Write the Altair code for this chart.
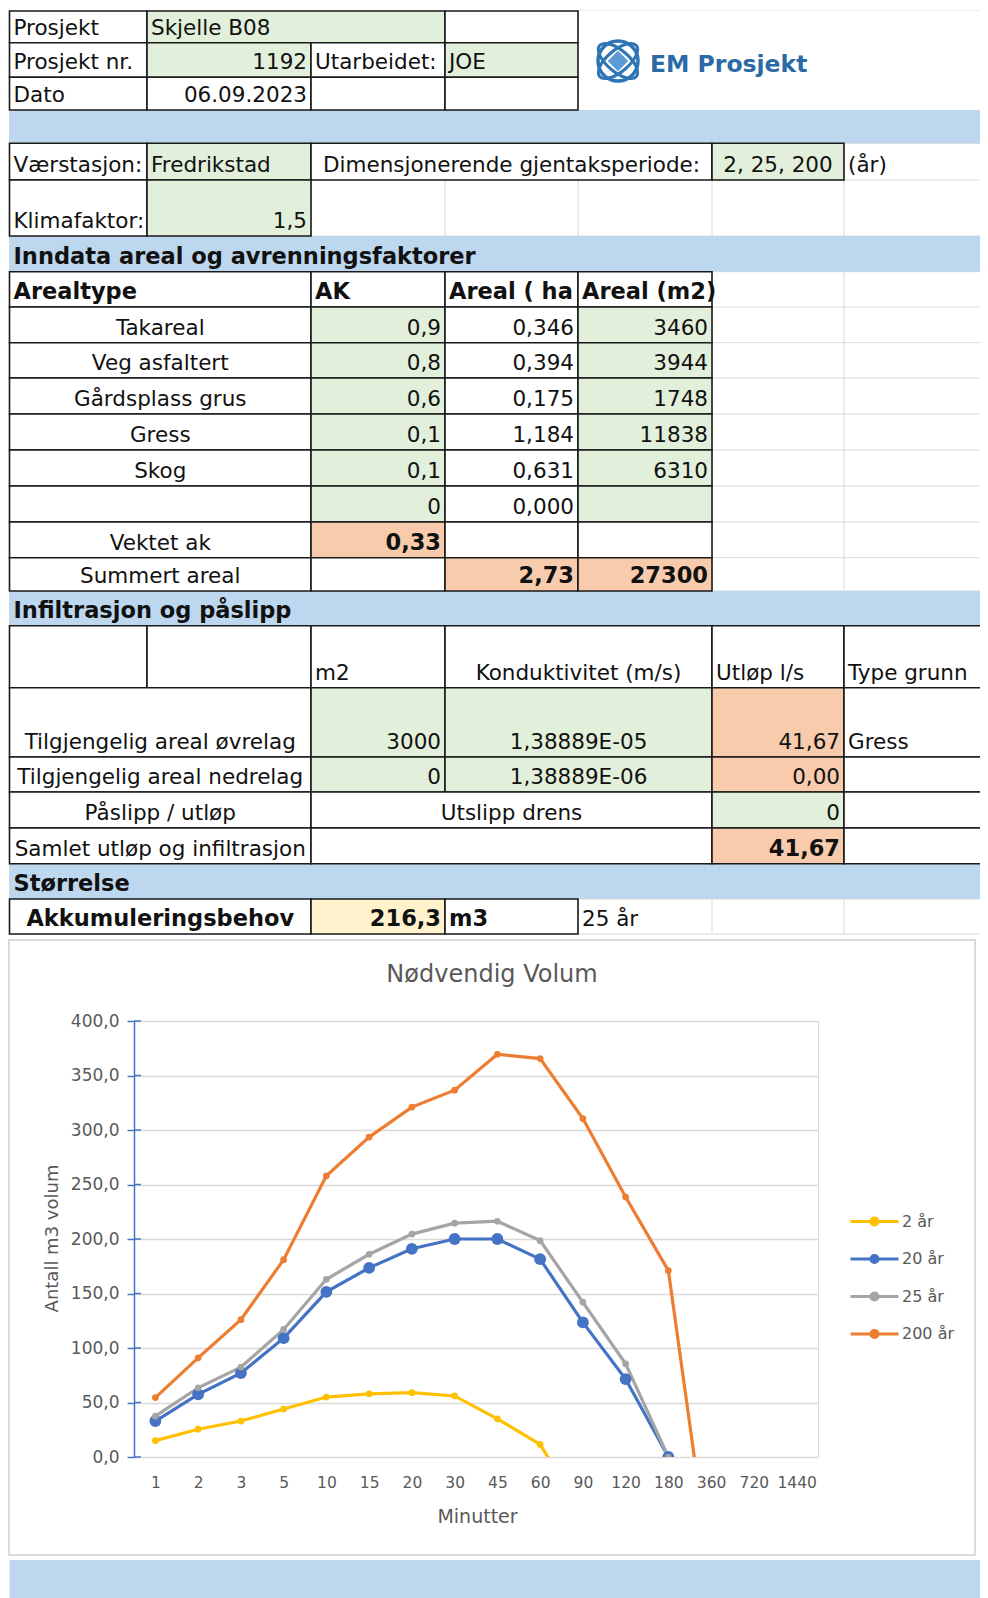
import altair as alt
import pandas as pd

FONT = "DejaVu Sans"

# ---------------- chart data ----------------
MINUTTER = ["1", "2", "3", "5", "10", "15", "20", "30", "45", "60",
            "90", "120", "180", "360", "720", "1440"]
SERIES = ["2 år", "20 år", "25 år", "200 år"]
VOLUM_2 = [15, 25.5, 33, 44, 55, 58, 59, 56, 35, 11.5, -52]
VOLUM_20 = [33, 57.5, 77, 109, 151.5, 173.5, 191, 200, 200, 181.5, 123.5, 71.5, 0]
VOLUM_25 = [37.5, 63.5, 82.5, 117, 163, 186, 204.5, 214.5, 216.3, 198.5, 142, 85.5, 0]
VOLUM_200 = [54.5, 91, 126, 181, 258, 293.5, 321, 336.5, 369.5, 365.5, 310.5, 238.5, 171, -111]
Y_TICKS = [0, 50, 100, 150, 200, 250, 300, 350, 400]

SERIES_COLORS = ["#FFC000", "#4472C4", "#A5A5A5", "#ED7D31"]
BIG_MARKER_SERIES = "20 år"

# ---------------- sheet content ----------------
AREALTYPE = ["Takareal", "Veg asfaltert", "Gårdsplass grus", "Gress", "Skog", ""]
AK = ["0,9", "0,8", "0,6", "0,1", "0,1", "0"]
AREAL_HA = ["0,346", "0,394", "0,175", "1,184", "0,631", "0,000"]
AREAL_M2 = ["3460", "3944", "1748", "11838", "6310", ""]

# (row, first col, last col, text, align, bold, fill code, bordered)
TOP_CELLS = [
    (0, 0, 1, "Prosjekt", "left", 0, "W", 1),
    (0, 1, 3, "Skjelle B08", "left", 0, "G", 1),
    (0, 3, 4, "", "left", 0, "W", 1),
    (1, 0, 1, "Prosjekt nr.", "left", 0, "W", 1),
    (1, 1, 2, "1192", "right", 0, "G", 1),
    (1, 2, 3, "Utarbeidet:", "left", 0, "W", 1),
    (1, 3, 4, "JOE", "left", 0, "G", 1),
    (2, 0, 1, "Dato", "left", 0, "W", 1),
    (2, 1, 2, "06.09.2023", "right", 0, "W", 1),
    (2, 2, 3, "", "left", 0, "W", 1),
    (2, 3, 4, "", "left", 0, "W", 1),
    (3, 0, 7, "", "left", 0, "B", 0),
    (4, 0, 1, "Værstasjon:", "left", 0, "W", 1),
    (4, 1, 2, "Fredrikstad", "left", 0, "G", 1),
    (4, 2, 5, "Dimensjonerende gjentaksperiode:", "center", 0, "W", 1),
    (4, 5, 6, "2, 25, 200", "center", 0, "G", 1),
    (4, 6, 7, "(år)", "left", 0, "-", 0),
    (5, 0, 1, "Klimafaktor:", "left", 0, "W", 1),
    (5, 1, 2, "1,5", "right", 0, "G", 1),
    (6, 0, 7, "Inndata areal og avrenningsfaktorer", "left", 1, "B", 0),
    (7, 0, 2, "Arealtype", "left", 1, "W", 1),
    (7, 2, 3, "AK", "left", 1, "W", 1),
    (7, 3, 4, "Areal ( ha", "left", 1, "W", 1),
    (7, 4, 5, "Areal (m2)", "left", 1, "W", 1),
]
SUM_CELLS = [
    (14, 0, 2, "Vektet ak", "center", 0, "W", 1),
    (14, 2, 3, "0,33", "right", 1, "O", 1),
    (14, 3, 4, "", "left", 0, "W", 1),
    (14, 4, 5, "", "left", 0, "W", 1),
    (15, 0, 2, "Summert areal", "center", 0, "W", 1),
    (15, 2, 3, "", "left", 0, "W", 1),
    (15, 3, 4, "2,73", "right", 1, "O", 1),
    (15, 4, 5, "27300", "right", 1, "O", 1),
    (16, 0, 7, "Infiltrasjon og påslipp", "left", 1, "B", 0),
    (17, 0, 1, "", "left", 0, "W", 1),
    (17, 1, 2, "", "left", 0, "W", 1),
    (17, 2, 3, "m2", "left", 0, "W", 1),
    (17, 3, 5, "Konduktivitet (m/s)", "center", 0, "W", 1),
    (17, 5, 6, "Utløp l/s", "left", 0, "W", 1),
    (17, 6, 7, "Type grunn", "left", 0, "W", 1),
    (18, 0, 2, "Tilgjengelig areal øvrelag", "center", 0, "W", 1),
    (18, 2, 3, "3000", "right", 0, "G", 1),
    (18, 3, 5, "1,38889E-05", "center", 0, "G", 1),
    (18, 5, 6, "41,67", "right", 0, "O", 1),
    (18, 6, 7, "Gress", "left", 0, "W", 1),
    (19, 0, 2, "Tilgjengelig areal nedrelag", "center", 0, "W", 1),
    (19, 2, 3, "0", "right", 0, "G", 1),
    (19, 3, 5, "1,38889E-06", "center", 0, "G", 1),
    (19, 5, 6, "0,00", "right", 0, "O", 1),
    (19, 6, 7, "", "left", 0, "W", 1),
    (20, 0, 2, "Påslipp / utløp", "center", 0, "W", 1),
    (20, 2, 5, "Utslipp drens", "center", 0, "W", 1),
    (20, 5, 6, "0", "right", 0, "G", 1),
    (20, 6, 7, "", "left", 0, "W", 1),
    (21, 0, 2, "Samlet utløp og infiltrasjon", "center", 0, "W", 1),
    (21, 2, 5, "", "left", 0, "W", 1),
    (21, 5, 6, "41,67", "right", 1, "O", 1),
    (21, 6, 7, "", "left", 0, "W", 1),
    (22, 0, 7, "Størrelse", "left", 1, "B", 0),
    (23, 0, 2, "Akkumuleringsbehov", "center", 1, "W", 1),
    (23, 2, 3, "216,3", "right", 1, "Y", 1),
    (23, 3, 4, "m3", "left", 1, "W", 1),
    (23, 4, 5, "25 år", "left", 0, "-", 0),
]
CHART_TITLE = "Nødvendig Volum"
LOGO_TEXT = "EM Prosjekt"

# ---------------- layout (page pixels) ----------------
COL_X = [9.5, 147, 311, 445, 578, 712, 844, 988]
ROW_Y = [11, 42.7, 77.3, 110, 143.3, 180, 236, 271.7, 307, 342.7, 378, 414, 450,
         486, 522, 557.7, 591, 625.7, 687.7, 757, 792, 828, 863.7, 899, 934]
FILLS = {"W": "#FFFFFF", "G": "#E2EFDA", "O": "#F8CBAD", "Y": "#FFF2CC",
         "B": "#BDD7EE", "-": ""}
PLOT = dict(left=134, top=1021, width=684, height=436)
PAGE_W, PAGE_H = 972, 1590
CHART_BOX = dict(x0=9, x1=975, y0=940, y1=1555)
BOTTOM_BAND = dict(x0=9.5, x1=988, y0=1560, y1=1598)
LOGO_AREA = dict(x0=578, x1=988, y0=11, y1=110)
TEXT_PAD = 4
BASELINE_OFF = 8
FS_NORMAL, FS_BOLD = 21.5, 22.5

# ---------------- build sheet tables ----------------
cells = list(TOP_CELLS)
for i, (n, a, h, m) in enumerate(zip(AREALTYPE, AK, AREAL_HA, AREAL_M2)):
    r = 8 + i
    cells += [(r, 0, 2, n, "center", 0, "W", 1), (r, 2, 3, a, "right", 0, "G", 1),
              (r, 3, 4, h, "right", 0, "W", 1), (r, 4, 5, m, "right", 0, "G", 1)]
cells += SUM_CELLS

rect_recs, band_recs, text_recs = [], [], []
for (r, c0, c1, t, al, b, f, bd) in cells:
    x0, x1 = COL_X[c0], COL_X[c1]
    y0, y1 = ROW_Y[r], ROW_Y[r + 1]
    if bd:
        rect_recs.append(dict(x0=x0, x1=x1, y0=y0, y1=y1, fill=FILLS[f]))
    elif FILLS[f]:
        band_recs.append(dict(x0=x0, x1=x1, y0=y0, y1=y1, fill=FILLS[f]))
    if t:
        tx = x0 + TEXT_PAD if al == "left" else (x1 - TEXT_PAD if al == "right" else (x0 + x1) / 2)
        text_recs.append(dict(label=t, px=tx, py=y1 - BASELINE_OFF, al=al, bw=b))
band_recs.append(dict(BOTTOM_BAND, fill="#BDD7EE"))
band_recs.append(dict(LOGO_AREA, fill="#FFFFFF"))

grid_recs = [dict(x0=COL_X[0], x1=COL_X[-1], y0=y, y1=y) for y in ROW_Y]
grid_recs += [dict(x0=x, x1=x, y0=ROW_Y[0], y1=ROW_Y[-1]) for x in COL_X]

sx = alt.Scale(domain=[8, 8 + PAGE_W], range=[8 - PLOT["left"], 8 + PAGE_W - PLOT["left"]],
               nice=False, zero=False)
sy = alt.Scale(domain=[8, 8 + PAGE_H], range=[8 - PLOT["top"], 8 + PAGE_H - PLOT["top"]],
               nice=False, zero=False)


def X(f):
    return alt.X(f"{f}:Q", scale=sx, axis=None)


def Y(f):
    return alt.Y(f"{f}:Q", scale=sy, axis=None)


grid_layer = alt.Chart(pd.DataFrame(grid_recs)).mark_rule(color="#DADADA", strokeWidth=1).encode(
    x=X("x0"), x2="x1", y=Y("y0"), y2="y1")
band_layer = alt.Chart(pd.DataFrame(band_recs)).mark_rect().encode(
    x=X("x0"), x2="x1", y=Y("y0"), y2="y1", fill=alt.Fill("fill:N", scale=None))
cell_layer = alt.Chart(pd.DataFrame(rect_recs)).mark_rect(stroke="#1A1A1A", strokeWidth=1.6).encode(
    x=X("x0"), x2="x1", y=Y("y0"), y2="y1", fill=alt.Fill("fill:N", scale=None))

tdf = pd.DataFrame(text_recs)
text_layers = []
for al in ["left", "center", "right"]:
    for b in [0, 1]:
        sub = tdf[(tdf.al == al) & (tdf.bw == b)][["label", "px", "py"]].reset_index(drop=True)
        if len(sub) == 0:
            continue
        text_layers.append(
            alt.Chart(sub).mark_text(align=al, baseline="alphabetic", font=FONT,
                                     fontSize=FS_BOLD if b else FS_NORMAL,
                                     fontWeight="bold" if b else "normal", color="#111111")
            .encode(x=X("px"), y=Y("py"), text=alt.Text("label:N")))

# logo
logo_df = pd.DataFrame([dict(x=618, y=61)])
ellipse = "M-1,0A1,0.45,0,1,1,1,0A1,0.45,0,1,1,-1,0Z"
logo_layers = [
    alt.Chart(logo_df).mark_point(shape=ellipse, filled=False, size=2300, angle=ang,
                                  strokeWidth=3, color="#2E75B6", opacity=1).encode(x=X("x"), y=Y("y"))
    for ang in (40, 140)
]
logo_layers.append(alt.Chart(logo_df).mark_point(shape="circle", filled=False, size=1600,
                                                 strokeWidth=3.5, color="#2E75B6", opacity=1).encode(
    x=X("x"), y=Y("y")))
logo_layers.append(alt.Chart(logo_df).mark_point(shape="diamond", filled=True, size=420,
                                                 color="#5B9BD5", opacity=1).encode(x=X("x"), y=Y("y")))
logo_layers.append(alt.Chart(pd.DataFrame([dict(x=650, y=72, t=LOGO_TEXT)])).mark_text(
    align="left", baseline="alphabetic", font=FONT, fontSize=23.5, fontWeight="bold",
    color="#2B6AA6").encode(x=X("x"), y=Y("y"), text="t:N"))

chartbox = alt.Chart(pd.DataFrame([CHART_BOX])).mark_rect(
    fill="white", fillOpacity=0, stroke="#D0D0D0", strokeWidth=1.5).encode(
    x=X("x0"), x2="x1", y=Y("y0"), y2="y1")
title_layer = alt.Chart(pd.DataFrame([dict(x=492, y=975, t=CHART_TITLE)])).mark_text(
    align="center", baseline="middle", font=FONT, fontSize=24, color="#595959").encode(
    x=X("x"), y=Y("y"), text="t:N")

sheet = alt.layer(grid_layer, band_layer, cell_layer, *text_layers, *logo_layers,
                  chartbox, title_layer)

# ---------------- line chart ----------------
rows = []
for s, vals in zip(SERIES, [VOLUM_2, VOLUM_20, VOLUM_25, VOLUM_200]):
    for i, v in enumerate(vals):
        rows.append(dict(Minutter=MINUTTER[i], idx=i, Serie=s, Volum=v))
cdf = pd.DataFrame(rows)

x_scale = alt.Scale(domain=MINUTTER, type="point", padding=0.5)
y_scale = alt.Scale(domain=[0, 400], nice=False, zero=False)
color_scale = alt.Scale(domain=SERIES, range=SERIES_COLORS)

x_axis = alt.Axis(orient="bottom", labelAngle=0, ticks=False, domain=True, domainColor="#D9D9D9",
                  labelPadding=18, labelFont=FONT, labelFontSize=15.5, labelColor="#595959",
                  grid=False, title="Minutter", titleFont=FONT, titleFontSize=19,
                  titleFontWeight="normal", titleColor="#595959",
                  titleX=343, titleY=59, titleAlign="center", titleBaseline="middle")
y_axis = alt.Axis(orient="left", values=Y_TICKS,
                  labelExpr="replace(format(datum.value, '.1f'), '.', ',')",
                  grid=True, gridColor="#D9D9D9", gridWidth=1.3,
                  domainColor="#4472C4", domainWidth=1.5, tickColor="#4472C4", tickSize=7,
                  tickWidth=1.5, labelPadding=8, labelFont=FONT, labelFontSize=17,
                  labelColor="#595959", title="Antall m3 volum", titleFont=FONT,
                  titleFontSize=18, titleFontWeight="normal", titleColor="#595959",
                  titleX=-82, titleY=217, titleAngle=270, titleAlign="center",
                  titleBaseline="middle")

legend_symbol = "M-2,0H2M0.3,0A0.3,0.3,0,1,1,-0.3,0A0.3,0.3,0,1,1,0.3,0"
legend = alt.Legend(title=None, orient="none", legendX=727, legendY=187,
                    symbolType=legend_symbol, symbolSize=576, symbolStrokeWidth=3,
                    labelFont=FONT, labelFontSize=16, labelColor="#595959",
                    labelOffset=14, rowPadding=13.5, padding=0)

xe = alt.X("Minutter:O", scale=x_scale, axis=x_axis)
ye = alt.Y("Volum:Q", scale=y_scale, axis=y_axis)

# inner half of the cross-style y-axis ticks
inner_ticks = alt.Chart(pd.DataFrame({"v": Y_TICKS})).mark_rule(
    color="#4472C4", strokeWidth=1.5).encode(
    y=alt.Y("v:Q", scale=y_scale, axis=y_axis), x=alt.value(0), x2=alt.value(7))

lines = alt.Chart(cdf).mark_line(strokeWidth=3.2, clip=True).encode(
    x=xe, y=ye, order="idx:Q",
    color=alt.Color("Serie:N", scale=color_scale, legend=legend))
small_pts = alt.Chart(cdf).transform_filter(
    alt.datum.Serie != BIG_MARKER_SERIES).mark_circle(opacity=1, clip=True, size=45).encode(
    x=xe, y=ye, color=alt.Color("Serie:N", scale=color_scale, legend=None))
big_pts = alt.Chart(cdf).transform_filter(
    alt.datum.Serie == BIG_MARKER_SERIES).mark_circle(opacity=1, clip=True, size=140).encode(
    x=xe, y=ye, color=alt.Color("Serie:N", scale=color_scale, legend=None))

plot = alt.layer(inner_ticks, lines, big_pts, small_pts)

chart = alt.layer(sheet, plot).resolve_scale(x="independent", y="independent").properties(
    width=PLOT["width"], height=PLOT["height"],
    padding={"left": PLOT["left"] - 8, "top": PLOT["top"] - 8,
             "right": PAGE_W - (PLOT["left"] - 8) - PLOT["width"],
             "bottom": PAGE_H - (PLOT["top"] - 8) - PLOT["height"]},
    autosize=alt.AutoSizeParams(type="none"),
).configure_view(stroke="#D0DBEF", strokeWidth=1)

chart.save("out.html", embed_options={"renderer": "svg", "actions": False})
